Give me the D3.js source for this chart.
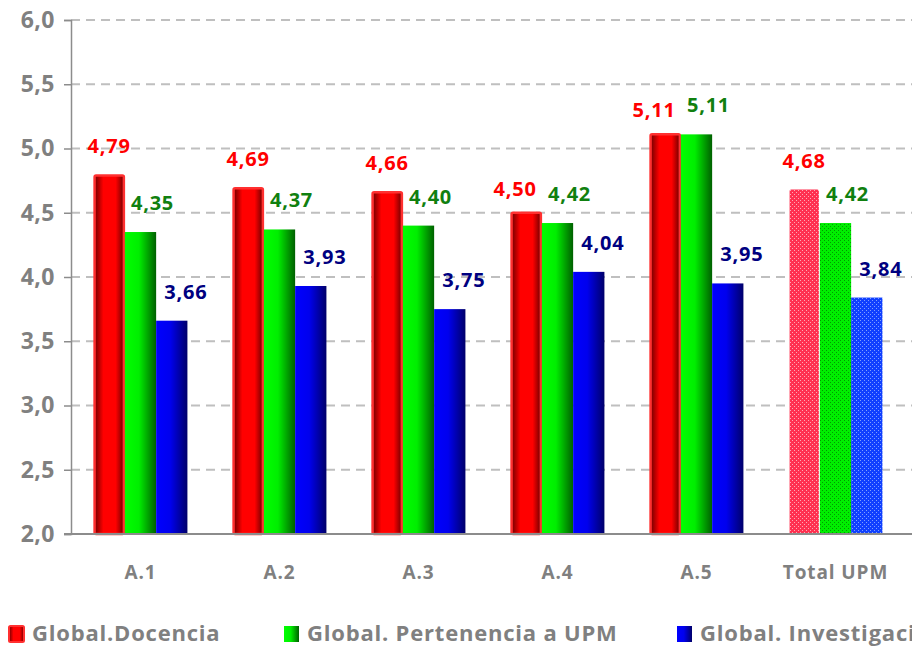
<!DOCTYPE html>
<html><head><meta charset="utf-8">
<script src="https://cdn.jsdelivr.net/npm/d3@7"></script>
<style>body{margin:0;background:#fff}svg{display:block}</style>
</head><body>
<script>
const categories = ["A.1","A.2","A.3","A.4","A.5","Total UPM"];
const docencia = [4.79,4.69,4.66,4.50,5.11,4.68];
const pertenencia = [4.35,4.37,4.40,4.42,5.11,4.42];
const investigacion = [3.66,3.93,3.75,4.04,3.95,3.84];
const seriesNames = ["Global.Docencia","Global. Pertenencia a UPM","Global. Investigación"];
const yTicks = [2.0,2.5,3.0,3.5,4.0,4.5,5.0,5.5,6.0];

(function(){
const W=912,H=647;
const FF="'Open Sans', sans-serif";
const svg=d3.select("body").append("svg").attr("width",W).attr("height",H);
const defs=svg.append("defs");
function grad(id,stops){
  const g=defs.append("linearGradient").attr("id",id).attr("x1","0").attr("x2","1").attr("y1","0").attr("y2","0");
  stops.forEach(s=>g.append("stop").attr("offset",s[0]).attr("stop-color",s[1]));
}
grad("gr",[["0%","#6e0000"],["30%","#ff0000"],["72%","#ff0000"],["100%","#6e0000"]]);
grad("gg",[["0%","#00ff00"],["45%","#00ee00"],["100%","#006000"]]);
grad("gb",[["0%","#0000ff"],["45%","#0000ee"],["100%","#00006a"]]);
function pat(id,bg,dot){
  const p=defs.append("pattern").attr("id",id).attr("patternUnits","userSpaceOnUse").attr("width",4).attr("height",4);
  p.append("rect").attr("width",4).attr("height",4).attr("fill",bg);
  p.append("rect").attr("x",0).attr("y",0).attr("width",1).attr("height",1).attr("fill",dot);
  p.append("rect").attr("x",2).attr("y",2).attr("width",1).attr("height",1).attr("fill",dot);
}
pat("pr","#ff3050","#ffa8b4");
pat("pg","#00ee00","#009900");
pat("pb","#1040ff","#80a0ff");

const pl=71,pr=905,pt=20,pb=534;
const x=d3.scaleBand().domain(categories).range([pl,pr]).paddingInner(0.325).paddingOuter(0.1625);
const xs=d3.scaleBand().domain([0,1,2]).range([0,x.bandwidth()]);
const y=d3.scaleLinear().domain([2,6]).range([pb,pt]);

svg.append("g").selectAll("line").data(yTicks.slice(1)).join("line")
  .attr("x1",pl).attr("x2",W).attr("y1",d=>y(d)).attr("y2",d=>y(d))
  .attr("stroke","#bfbfbf").attr("stroke-width",2).attr("stroke-dasharray","9,6");

const ya=svg.append("g").attr("transform",`translate(${pl},0)`)
  .call(d3.axisLeft(y).tickValues(yTicks).tickSize(7).tickFormat(d=>d3.format(".1f")(d).replace(".",",")));
ya.select(".domain").attr("stroke","#8c8c8c").attr("stroke-width",1.5);
ya.selectAll(".tick line").attr("stroke","#8c8c8c").attr("stroke-width",1.5);
ya.selectAll(".tick text").attr("fill","#808080").attr("font-family",FF)
  .attr("font-weight","bold").attr("font-size","23px").attr("letter-spacing","0.5px").attr("x",-16);

const series=[docencia,pertenencia,investigacion];
const fills=["url(#gr)","url(#gg)","url(#gb)"];
const pfills=["url(#pr)","url(#pg)","url(#pb)"];
const labelColors=["#ff0000","#108010","#000080"];
const labelShift=[0,12,14];

series.forEach((vals,si)=>{
  const g=svg.append("g");
  g.selectAll("rect").data(vals).join("rect")
    .attr("x",(d,i)=>x(categories[i])+xs(si)+(si===0?1:0))
    .attr("width",xs.bandwidth()-(si===0?2:0))
    .attr("y",d=>y(d))
    .attr("height",d=>pb-y(d))
    .attr("fill",(d,i)=>categories[i]==="Total UPM"?pfills[si]:fills[si])
    .attr("stroke",(d,i)=>si===0&&categories[i]!=="Total UPM"?"#ff3030":"none")
    .attr("stroke-width",2.5).attr("rx",si===0?1.5:0);
  g.selectAll("text").data(vals).join("text")
    .attr("x",(d,i)=>{
      let c=x(categories[i])+xs(si)+xs.bandwidth()/2+labelShift[si];
      // avoid collision when neighbouring bars have nearly equal heights
      if(si===0 && Math.abs(docencia[i]-pertenencia[i])<0.2) c-=11;
      return c;})
    .attr("y",(d,i)=>y(d)-22+(si===0 && Math.abs(docencia[i]-pertenencia[i])<0.2?5:0))
    .attr("text-anchor","middle")
    .attr("fill",labelColors[si]).attr("font-family",FF)
    .attr("font-weight","bold").attr("font-size","20px").attr("letter-spacing","0.8px")
    .text(d=>d3.format(".2f")(d).replace(".",","));
});

svg.append("line").attr("x1",pl-7).attr("x2",W).attr("y1",pb).attr("y2",pb)
  .attr("stroke","#8c8c8c").attr("stroke-width",2);
svg.append("g").selectAll("text").data(categories).join("text")
  .attr("x",d=>x(d)+x.bandwidth()/2).attr("y",579).attr("text-anchor","middle")
  .attr("fill","#808080").attr("font-family",FF)
  .attr("font-weight","bold").attr("font-size","19px").attr("letter-spacing","0.9px").text(d=>d);

const legX=[8,283,676];
const leg=svg.append("g");
seriesNames.forEach((n,i)=>{
  leg.append("rect").attr("x",legX[i]+1).attr("y",626).attr("width",15).attr("height",16)
    .attr("fill",fills[i]).attr("stroke",i===0?"#ff3030":"none").attr("stroke-width",2).attr("rx",i===0?1.5:0);
  leg.append("text").attr("x",legX[i]+24).attr("y",641).attr("fill","#808080")
    .attr("font-family",FF).attr("font-weight","bold").attr("font-size","22px").attr("letter-spacing","0.8px").text(n);
});
})();
</script>
</body></html>
